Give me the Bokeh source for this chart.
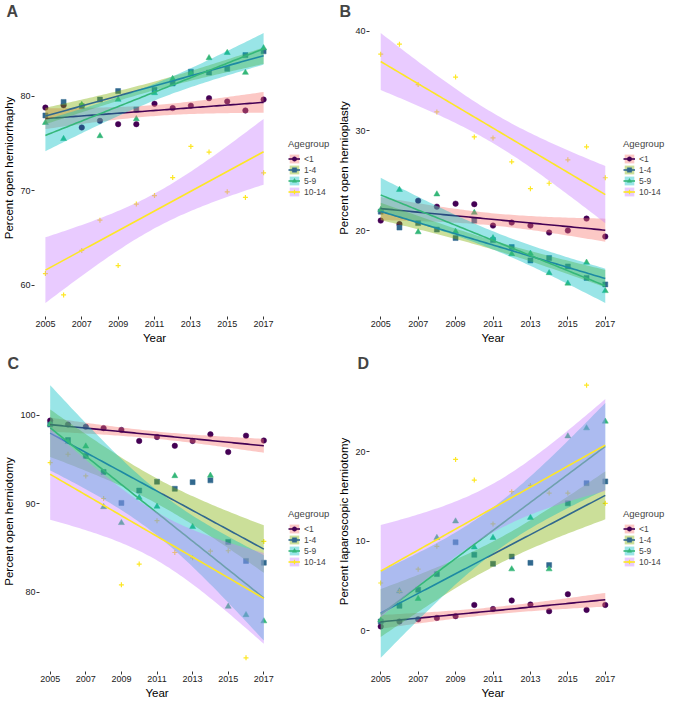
import numpy as np
from bokeh.plotting import figure
from bokeh.layouts import column, row
from bokeh.models import Legend, LegendItem, FixedTicker, Range1d, ColumnDataSource
from bokeh.embed import file_html
from bokeh.resources import INLINE

years = list(range(2005, 2018))
groups = ["<1", "1-4", "5-9", "10-14"]

a_lt1 = [78.8, 79.05, 76.7, 77.4, 77.05, 77.05, 79.2, 78.75, 79.0, 79.8, 79.45, 78.5, 79.65]
a_1_4 = [77.97, 79.4, 78.95, 79.65, 80.55, 78.6, 80.7, 81.35, 82.6, 82.5, 82.9, 84.35, 84.75]
a_5_9 = [77.2, 75.5, 79.1, 75.8, 79.65, 77.6, 80.35, 81.85, 82.4, 84.05, 84.6, 82.5, 85.1]
a_10_14 = [61.25, 59.0, 63.7, 66.9, 62.1, 68.6, 69.5, 71.4, 74.7, 74.1, 69.9, 69.3, 71.9]

b_lt1 = [21.0, 20.65, 23.0, 22.4, 22.7, 22.65, 20.5, 20.8, 20.5, 19.8, 20.0, 21.2, 19.4]
b_1_4 = [21.9, 20.3, 20.75, 20.1, 19.25, 21.0, 19.05, 18.35, 17.0, 17.25, 16.4, 15.25, 14.6]
b_5_9 = [22.1, 24.1, 19.85, 23.65, 19.9, 21.8, 19.25, 17.65, 17.7, 15.75, 14.7, 16.8, 13.95]
b_10_14 = [37.7, 38.7, 34.65, 31.9, 35.4, 29.4, 29.3, 26.9, 24.2, 24.75, 27.1, 28.4, 25.3]

c_lt1 = [99.4, 98.95, 98.7, 98.55, 98.35, 97.1, 97.55, 96.55, 97.1, 97.85, 95.85, 97.7, 97.15]
c_1_4 = [98.95, 97.2, 95.4, 93.6, 90.1, 91.5, 92.5, 91.7, 92.45, 92.65, 85.7, 83.55, 83.35]
c_5_9 = [99.0, 97.0, 96.5, 89.65, 87.85, 90.7, 89.7, 93.15, 87.4, 93.2, 78.4, 77.45, 76.75]
c_10_14 = [94.65, 95.6, 93.15, 90.6, 80.85, 83.2, 88.1, 84.5, 83.9, 84.65, 84.7, 72.6, 85.75]

d_lt1 = [0.5, 1.05, 1.3, 1.45, 1.65, 2.9, 2.45, 3.4, 2.95, 2.2, 4.1, 2.35, 2.9]
d_1_4 = [1.05, 2.8, 4.6, 6.35, 9.9, 8.5, 7.5, 8.3, 7.6, 7.35, 14.25, 16.5, 16.7]
d_5_9 = [1.2, 4.45, 3.6, 10.4, 12.25, 9.35, 10.4, 6.9, 12.65, 6.9, 21.75, 22.65, 23.4]
d_10_14 = [5.35, 4.4, 6.9, 9.45, 19.15, 16.85, 11.95, 15.55, 16.25, 15.4, 15.4, 27.45, 14.25]

x_ticks = [2005, 2007, 2009, 2011, 2013, 2015, 2017]
a_ticks = [60, 70, 80]
b_ticks = [20, 30, 40]
c_ticks = [80, 90, 100]
d_ticks = [0, 10, 20]

line_colors = ["#440154", "#31688E", "#35B779", "#FDE725"]
fill_colors = ["#F8766D", "#7CAE00", "#00BFC4", "#C77CFF"]
markers = ["circle", "square", "triangle", "cross"]
msizes = [5.5, 5, 6, 5]

T975 = 2.201  # t quantile, df = 11
FONT = "Liberation Sans"


def lm_band(x, y, xs):
    x = np.asarray(x, float)
    y = np.asarray(y, float)
    n = len(x)
    xb, yb = x.mean(), y.mean()
    sxx = ((x - xb) ** 2).sum()
    b = ((x - xb) * (y - yb)).sum() / sxx
    a = yb - b * xb
    res = y - (a + b * x)
    s = np.sqrt((res ** 2).sum() / (n - 2))
    fit = a + b * xs
    se = s * np.sqrt(1.0 / n + (xs - xb) ** 2 / sxx)
    return fit, fit - T975 * se, fit + T975 * se


def panel(letter, ylabel, series, yticks, width, height, mb_left, mb_right, mb_bottom, letter_off):
    xs = np.linspace(2005, 2017, 80)
    bands = [lm_band(years, s, xs) for s in series]
    lo = min(min(min(s) for s in series), min(bd[1].min() for bd in bands))
    hi = max(max(max(s) for s in series), max(bd[2].max() for bd in bands))
    pad = (hi - lo) * 0.05

    p = figure(width=width, height=height, output_backend="svg", toolbar_location=None,
               x_range=Range1d(2004.4, 2017.6), y_range=Range1d(lo - pad, hi + pad),
               min_border_left=mb_left, min_border_right=mb_right,
               min_border_top=0, min_border_bottom=mb_bottom, title=letter)
    p.title.text_font = FONT
    p.title.text_font_size = "16px"
    p.title.text_font_style = "bold"
    p.title.align = "left"
    p.title.offset = letter_off
    p.title.standoff = 0
    p.outline_line_color = None
    p.xgrid.visible = False
    p.ygrid.visible = False
    for ax in (p.xaxis[0], p.yaxis[0]):
        ax.axis_line_color = None
        ax.major_tick_out = 3
        ax.major_tick_in = 0
        ax.minor_tick_out = 0
        ax.minor_tick_in = 0
        ax.major_tick_line_color = "#333333"
        ax.major_label_text_font = FONT
        ax.major_label_text_font_size = "9px"
        ax.major_label_text_color = "#1a1a1a"
        ax.axis_label_text_font = FONT
        ax.axis_label_text_font_size = "11.5px"
        ax.axis_label_text_font_style = "normal"
        ax.axis_label_text_color = "black"
        ax.major_label_standoff = 1
        ax.axis_label_standoff = 2
    p.xaxis.ticker = FixedTicker(ticks=x_ticks)
    p.yaxis.ticker = FixedTicker(ticks=yticks)
    p.xaxis.axis_label = "Year"
    p.yaxis.axis_label = ylabel

    for i, s in enumerate(series):
        p.scatter(years, s, marker=markers[i], size=msizes[i],
                  fill_color=line_colors[i], line_color=line_colors[i],
                  line_width=1.2 if markers[i] == "cross" else 0.5)
    for i, (fit, lo_b, hi_b) in enumerate(bands):
        src = ColumnDataSource(dict(x=xs, fit=fit, lo=lo_b, hi=hi_b))
        p.varea(x="x", y1="lo", y2="hi", source=src, fill_color=fill_colors[i], fill_alpha=0.4)
        p.line(x="x", y="fit", source=src, line_color=line_colors[i], line_width=1.6)
    return p


def legend_fig(width, height, lx, ly):
    # legend-only figure; its key renderers sit outside the visible range
    q = figure(width=width, height=height, output_backend="svg", toolbar_location=None,
               x_axis_type=None, y_axis_type=None, x_range=Range1d(0, 1), y_range=Range1d(0, 1),
               min_border=0)
    q.outline_line_color = None
    q.xgrid.visible = False
    q.ygrid.visible = False
    items = []
    for i, g in enumerate(groups):
        ka = ColumnDataSource(dict(x=[-10, -9], y1=[-10, -10], y2=[-9, -9]))
        kl = ColumnDataSource(dict(x=[-10, -9], y=[-10, -10]))
        kp = ColumnDataSource(dict(x=[-10], y=[-10]))
        rb = q.varea(x="x", y1="y1", y2="y2", source=ka, fill_color=fill_colors[i], fill_alpha=0.4)
        rl = q.line(x="x", y="y", source=kl, line_color=line_colors[i], line_width=1.6)
        rs = q.scatter(x="x", y="y", source=kp, marker=markers[i], size=msizes[i],
                       fill_color=line_colors[i], line_color=line_colors[i],
                       line_width=1.2 if markers[i] == "cross" else 0.5)
        items.append(LegendItem(label=g, renderers=[rb, rl, rs]))
    leg = Legend(items=items, location=(lx, ly), title="Agegroup",
                 title_text_font=FONT, title_text_font_size="9.5px", title_text_font_style="normal",
                 title_standoff=4, label_text_font=FONT, label_text_font_size="8.5px",
                 glyph_width=12, glyph_height=11, label_height=11, label_standoff=4,
                 spacing=0, padding=0, margin=0, border_line_color=None,
                 background_fill_alpha=0)
    q.add_layout(leg, "center")
    return q


pa = panel("A", "Percent open herniorrhaphy", [a_lt1, a_1_4, a_5_9, a_10_14], a_ticks,
           280, 352, 30, 6, 36, -28)
la = legend_fig(53, 352, 8, 119)
pb = panel("B", "Percent open hernioplasty", [b_lt1, b_1_4, b_5_9, b_10_14], b_ticks,
           287, 352, 36, 4, 36, -30)
lb = legend_fig(49, 352, 3, 119)
pc = panel("C", "Percent open herniotomy", [c_lt1, c_1_4, c_5_9, c_10_14], c_ticks,
           280, 349, 30, 6, 29, -32)
lc = legend_fig(53, 349, 8, 104)
pd = panel("D", "Percent laparoscopic herniotomy", [d_lt1, d_1_4, d_5_9, d_10_14], d_ticks,
           287, 349, 36, 4, 29, -12)
ld = legend_fig(49, 349, 3, 104)

layout = column(row(pa, la, pb, lb), row(pc, lc, pd, ld))
open("out.html", "w").write(file_html(layout, INLINE))
